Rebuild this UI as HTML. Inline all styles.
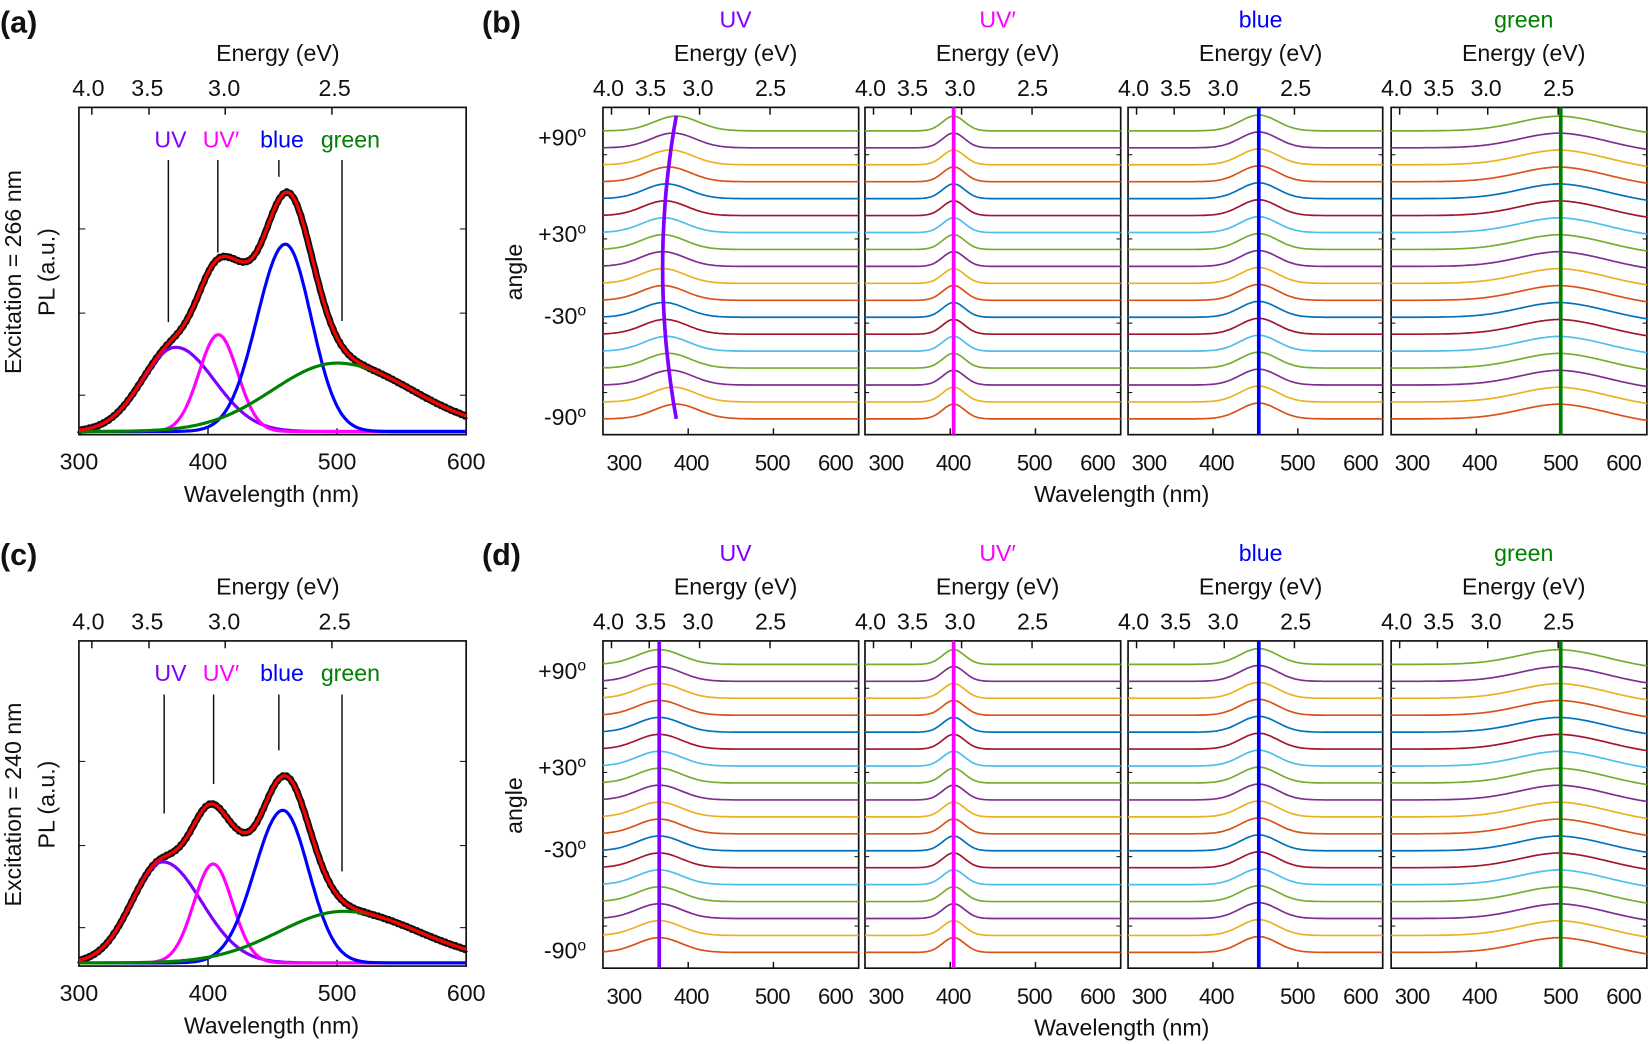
<!DOCTYPE html>
<html><head><meta charset="utf-8"><style>
html,body{margin:0;padding:0;background:#fff}
svg{display:block}
text{font-family:"Liberation Sans",sans-serif;fill:#111}
</style></head><body>
<svg id="s" width="1650" height="1044" viewBox="0 0 1568 992" xmlns="http://www.w3.org/2000/svg">
<g font-size="22">
<text x="0" y="31" font-size="29" font-weight="bold">(a)</text>
<text x="458" y="31" font-size="29" font-weight="bold">(b)</text>
<text x="0" y="537" font-size="29" font-weight="bold">(c)</text>
<text x="458" y="537" font-size="29" font-weight="bold">(d)</text>
</g>
<g id="g"></g>
</svg>
<script>
const NS="http://www.w3.org/2000/svg";
const G=document.getElementById('g');
function el(t,a,txt){const e=document.createElementNS(NS,t);for(const k in a)e.setAttribute(k,a[k]);if(txt!==undefined)e.textContent=txt;G.appendChild(e);return e;}
function txt(x,y,s,o){o=o||{};const a={x:x,y:y,'font-size':o.fs||22,'text-anchor':o.anchor||'middle'};if(o.ls)a['letter-spacing']=o.ls;if(o.rot)a.transform='rotate(-90 '+x+' '+y+')';if(o.fill)a.style='fill:'+o.fill;return el('text',a,s);}
function gauss(l,c,s){return Math.exp(-(l-c)*(l-c)/(2*s*s));}
function axesFrame(x0,x1,y0,y1,showTop,bottomTicks){
  el('rect',{x:x0,y:y0,width:x1-x0,height:y1-y0,fill:'none',stroke:'#111','stroke-width':1.6});
  const X=l=>x0+(l-300)/300*(x1-x0);
  [4.0,3.5,3.0,2.5].forEach(E=>{const xx=X(1240/E);el('line',{x1:xx,y1:y0,x2:xx,y2:y0+7,stroke:'#111','stroke-width':1.4});});
  bottomTicks.forEach(l=>{const xx=X(l);el('line',{x1:xx,y1:y1,x2:xx,y2:y1-6,stroke:'#111','stroke-width':1.4});});
  return X;
}
const CY=['#D95319','#EDB120','#7E2F8E','#77AC30','#4DBEEE','#A2142F','#0072BD'];
function leftPanel(y0,y1,comps,extra,lines,exc){
  const x0=75,x1=443;
  const X=axesFrame(x0,x1,y0,y1,true,[300,400,500,600]);
  const ym=(y0+y1)/2;
  [ym-40,ym+40,ym+118].forEach(yy=>{el('line',{x1:x0,y1:yy,x2:x0+6,y2:yy,stroke:'#111'});el('line',{x1:x1,y1:yy,x2:x1-6,y2:yy,stroke:'#111'});});
  const base=y1-3;
  let tot='',fit='';
  const cps=comps.map(()=>'');
  for(let l=300;l<=600;l+=1){
    let s=0;const xx=X(l).toFixed(1);
    comps.forEach((c,i)=>{const v=c.a*gauss(l,c.c,l<c.c?c.s:c.s2||c.s);s+=v;cps[i]+=(l==300?'M':'L')+xx+','+(base-v).toFixed(1);});
    s+=extra[0]*gauss(l,extra[1],extra[2]);
    const noise=Math.sin(l*2.3)*0.6;
    tot+=(l==300?'M':'L')+xx+','+(base-s+noise).toFixed(1);
    fit+=(l==300?'M':'L')+xx+','+(base-s).toFixed(1);
  }
  el('path',{d:tot,fill:'none',stroke:'#111','stroke-width':6.5,'stroke-linejoin':'round'});
  comps.forEach((c,i)=>el('path',{d:cps[i],fill:'none',stroke:c.col,'stroke-width':3}));
  el('path',{d:fit,fill:'none',stroke:'#ff0000','stroke-width':3});
  const ly=y0+38;
  txt(162,ly,'UV',{fill:'#7F00FF'});txt(210,ly,'UV′',{fill:'#FF00FF'});txt(268,ly,'blue',{fill:'#0000FF'});txt(333,ly,'green',{fill:'#008000'});
  lines.forEach(L=>el('line',{x1:L[0],y1:L[1],x2:L[0],y2:L[2],stroke:'#111','stroke-width':1.4}));
  ['4.0','3.5','3.0','2.5'].forEach((t,i)=>txt([84,140,213,318][i],y0-11,t));
  txt(264,y0-44,'Energy (eV)');
  [300,400,500,600].forEach(l=>txt(X(l),y1+33,l));
  txt(258,y1+64,'Wavelength (nm)');
  txt(52,(y0+y1)/2+1,'PL (a.u.)',{rot:1});
  txt(20,(y0+y1)/2+1,'Excitation = '+exc+' nm',{rot:1});
}
leftPanel(102,413,[{a:80,c:375,s:26,s2:30,col:'#7F00FF'},{a:92,c:408,s:15,col:'#FF00FF'},{a:178,c:460,s:22,s2:20,col:'#0000FF'},{a:65,c:500,s:50,s2:58,col:'#008000'}],[22,426,11],
 [[160,152,306],[207,152,240],[265,152,168],[325,152,305]],'266');
leftPanel(609,918,[{a:96,c:365,s:24,s2:30,col:'#7F00FF'},{a:94,c:404,s:15,col:'#FF00FF'},{a:145,c:458,s:22,s2:20,col:'#0000FF'},{a:49,c:505,s:50,s2:58,col:'#008000'}],[16,424,10],
 [[156,660,773],[203,660,745],[265,660,713],[325,660,828]],'240');

const PX=[[573,816],[822,1065],[1072,1314],[1322,1565]];
const names=[['UV','#7F00FF'],['UV′','#FF00FF'],['blue','#0000FF'],['green','#008000']];
function rightRow(y0,y1,curvedUV){
  PX.forEach((p,k)=>{
    const X=axesFrame(p[0],p[1],y0,y1,true,[400,500]);
    [y0+45,y0+125,y0+205,y1-40].forEach(yy=>{el('line',{x1:p[0],y1:yy,x2:p[0]+4,y2:yy,stroke:'#111'});el('line',{x1:p[1],y1:yy,x2:p[1]-4,y2:yy,stroke:'#111'});});
    for(let i=0;i<18;i++){
      const b=y1-15-i*16.1;
      const t=(i-8.5)/8.5;
      let c,s,a,s2,drop=0;
      if(k==0){c=curvedUV?370+16*t*t:366;s=26;a=14;}
      else if(k==1){c=404;s=13;a=14;}
      else if(k==2){c=454;s=22;a=15;}
      else {c=499;s=48;s2=55;a=14;drop=4;}
      let d='';
      for(let l=300;l<=600;l+=2){
        let v=a*gauss(l,c,l<c?s:(s2||s));
        let yy=b-v+(k==3&&l>c?drop*(l-c)/100:0);
        d+=(l==300?'M':'L')+X(l).toFixed(1)+','+yy.toFixed(1);
      }
      el('path',{d:d,fill:'none',stroke:CY[i%7],'stroke-width':1.6});
    }
    if(k==0&&curvedUV){
      let d='';for(let j=0;j<=20;j++){const yy=y0+8+j*(288/20);const t=(yy-(y0+152))/144;d+=(j?'L':'M')+X(370+16*t*t).toFixed(1)+','+yy.toFixed(1);}
      el('path',{d:d,fill:'none',stroke:'#7F00FF','stroke-width':3.5});
    } else {
      const cc=[366,404,454,499][k];
      el('line',{x1:X(cc),y1:y0,x2:X(cc),y2:y1,stroke:names[k][1],'stroke-width':3.5});
    }
    ['4.0','3.5','3.0','2.5'].forEach((t,i)=>txt(p[0]+[5,45,90,159][i],y0-11,t,{ls:-0.5}));
    txt(p[0]+126,y0-44,'Energy (eV)');
    txt(p[0]+126,y0-76,names[k][0],{fill:names[k][1]});
    [[300,20],[400,84],[500,161],[600,221]].forEach(q=>txt(p[0]+q[1],y1+34,q[0],{fs:21,ls:-0.6}));
  });
  txt(1066,y1+64,'Wavelength (nm)');
  [['+90',y0+36],['+30',y0+128],['-30',y0+206],['-90',y0+302]].forEach(q=>{
    const e=txt(557,q[1],'',{anchor:'end'});e.innerHTML=q[0]+'<tspan dy="-8" font-size="15">o</tspan>';
  });
  txt(496,(y0+y1)/2+1,'angle',{rot:1});
}
rightRow(102,413,true);
rightRow(609,920,false);
</script>
</body></html>
